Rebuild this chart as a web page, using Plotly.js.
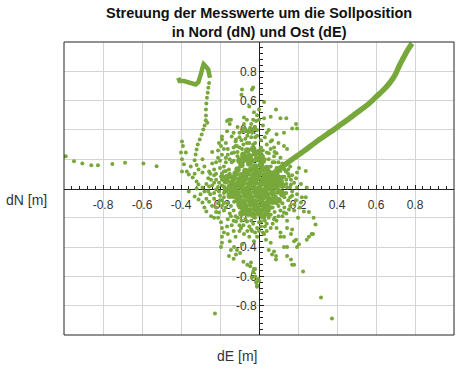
<!DOCTYPE html>
<html>
<head>
<meta charset="utf-8">
<script src="https://cdn.plot.ly/plotly-3.0.1.min.js"></script>
<style>html,body{margin:0;padding:0;background:#fff;}#chart{width:465px;height:370px;}</style>
</head>
<body>
<div id="chart"></div>
<script>
// ---- data (dE = x, dN = y, metres) ----
const curveE = [0.02,0.05,0.10,0.16,0.23,0.30,0.37,0.44,0.50,0.56,0.60,0.64,0.67,0.70,0.72,0.74,0.76,0.785];
const curveN = [0.03,0.08,0.13,0.19,0.255,0.325,0.39,0.455,0.515,0.575,0.625,0.675,0.72,0.78,0.84,0.89,0.94,0.99];

const loopE = [-0.414,-0.407,-0.385,-0.35,-0.325,-0.311,-0.304,-0.297,-0.29,-0.284,-0.277,-0.268,-0.26,-0.255,-0.251];
const loopN = [0.756,0.733,0.733,0.715,0.71,0.726,0.749,0.785,0.824,0.849,0.84,0.828,0.812,0.778,0.756];

const trailWest = [[-0.991,0.22],[-0.949,0.186],[-0.906,0.17],[-0.86,0.159],[-0.826,0.159],[-0.752,0.168],[-0.687,0.175],[-0.593,0.17],[-0.525,0.152]];

const trailNorth = [[-0.256,0.72],[-0.26,0.687],[-0.263,0.653],[-0.267,0.619],[-0.27,0.58],[-0.272,0.539],[-0.272,0.498],[-0.273,0.466],[-0.265,0.448],[-0.279,0.43],[-0.286,0.403],[-0.294,0.369],[-0.304,0.334],[-0.314,0.3],[-0.32,0.266],[-0.325,0.232],[-0.33,0.193]];

const cloud = [
[-0.395,0.32],[-0.39,0.29],[-0.375,0.245],[-0.40,0.245],[-0.395,0.20],[-0.385,0.165],[-0.395,0.116],[-0.37,0.116],[-0.36,0.095],[-0.34,0.075],[-0.32,0.048],[-0.31,0.027],[-0.29,0.007],[-0.28,-0.02],
[-0.29,0.2],[-0.28,0.15],[-0.256,0.116],[-0.246,0.06],[-0.23,0.04],[-0.22,-0.007],[-0.22,0.18],[-0.205,0.31],[-0.195,0.29],[-0.19,0.355],[-0.18,0.27],[-0.17,0.31],[-0.164,0.46],[-0.15,0.44],[-0.144,0.47],[-0.164,0.39],[-0.14,0.355],[-0.118,0.335],[-0.113,0.29],[-0.128,0.245],[-0.10,0.38],[-0.077,0.44],[-0.062,0.47],[-0.05,0.40],[-0.036,0.38],[-0.062,0.31],[-0.087,0.27],[-0.077,0.22],[-0.10,0.2],[-0.14,0.18],[-0.154,0.13],[-0.18,0.116],[-0.17,0.075],[-0.14,0.082],[-0.195,0.082],[-0.205,0.04],[-0.18,0.014],[-0.154,0.014],[-0.128,0.027],[-0.256,0.014],[-0.32,0.16],[-0.35,0.15],[-0.29,0.11],[-0.026,0.52],[-0.05,0.56],[-0.015,0.46],
[-0.087,0.676],[-0.036,0.676],[-0.09,0.64],[-0.154,0.47],[-0.077,0.485],[-0.03,0.69],[-0.19,0.335],
[0.026,0.59],[0.087,0.54],[0.06,0.49],[0.11,0.48],[0.14,0.48],[0.19,0.44],[0.195,0.41],[0.17,0.41],[0.04,0.38],[0.09,0.37],[0.128,0.38],[0.067,0.33],[0.10,0.31],[0.128,0.29],[0.144,0.27],[0.077,0.28],[0.205,0.14],[0.24,0.12],[0.195,0.11],[0.164,0.06],[0.18,0.04],[0.215,0.03],[0.01,0.33],[-0.01,0.40],[0.0,0.47],[0.026,0.48],[0.05,0.40],[0.0,0.54],[0.04,0.245],[0.077,0.22],[0.10,0.18],[0.06,0.15],[0.118,0.15],[0.138,0.116],[0.092,0.095],[0.154,0.082],[0.118,0.048],[0.164,0.027],[0.195,0.007],[0.144,0.007],
[-0.36,-0.02],[-0.33,-0.055],[-0.31,-0.075],[-0.29,-0.095],[-0.28,-0.13],[-0.27,-0.157],[-0.246,-0.19],[-0.23,-0.2],[-0.256,-0.09],[-0.22,-0.13],[-0.205,-0.164],[-0.21,-0.2],[-0.195,-0.23],[-0.19,-0.27],[-0.18,-0.30],[-0.19,-0.33],[-0.19,-0.37],[-0.195,-0.40],[-0.164,-0.26],[-0.16,-0.31],[-0.15,-0.36],[-0.144,-0.42],[-0.154,-0.46],[-0.128,-0.40],[-0.113,-0.42],[-0.097,-0.44],[-0.118,-0.45],[-0.087,-0.38],[-0.077,-0.31],[-0.092,-0.27],[-0.118,-0.225],[-0.144,-0.19],[-0.062,-0.225],[-0.036,-0.29],[-0.026,-0.36],[-0.041,-0.505],[-0.026,-0.55],[-0.036,-0.61],[-0.015,-0.64],[-0.01,-0.67],[-0.205,-0.02],[-0.18,-0.06],[-0.154,-0.04],[-0.128,-0.09],[-0.144,-0.12],[-0.10,-0.13],[-0.077,-0.164],[-0.05,-0.18],[-0.226,-0.853],[-0.13,-0.48],[-0.08,-0.50],[-0.02,-0.55],
[-0.06,-0.52],[-0.045,-0.53],[-0.03,-0.57],[-0.02,-0.60],[-0.005,-0.62],[0.0,-0.63],[-0.01,-0.66],
[0.026,-0.2],[0.04,-0.29],[0.06,-0.37],[0.077,-0.43],[0.087,-0.46],[0.09,-0.27],[0.11,-0.33],[0.128,-0.40],[0.144,-0.46],[0.17,-0.52],[0.144,-0.22],[0.17,-0.28],[0.19,-0.35],[0.205,-0.38],[0.256,-0.16],[0.29,-0.245],[0.277,-0.31],[0.256,-0.33],[0.23,-0.157],[0.01,-0.225],[0.026,-0.31],[0.036,-0.35],[0.05,-0.42],[0.067,-0.45],[0.087,-0.485],[0.06,-0.27],[0.077,-0.21],[0.10,-0.19],[0.128,-0.164],[0.154,-0.143],[0.18,-0.11],[0.215,-0.095],[0.24,-0.06],[0.195,-0.04],[0.17,-0.02],[0.245,0.007],[0.144,-0.27],[0.164,-0.31],[0.18,-0.36],[0.195,-0.40],[0.128,-0.33],[0.11,-0.30],[0.144,-0.40],[0.164,-0.485],[0.18,-0.52],[0.27,-0.31],[0.28,-0.20],[0.245,-0.35],[0.226,-0.567],[0.318,-0.744],[0.374,-0.887]
];

const ring = [
[-0.22,0.10],[-0.20,0.14],[-0.19,0.06],[-0.17,0.18],[-0.16,0.23],[-0.15,0.10],[-0.17,-0.02],[-0.19,-0.08],[-0.16,-0.10],[-0.18,-0.15],[-0.15,-0.17],[-0.13,-0.15],[-0.12,-0.19],[-0.09,-0.18],[-0.07,-0.21],[-0.04,-0.22],[-0.02,-0.20],[0.0,-0.23],[0.02,-0.18],[0.05,-0.20],[0.05,-0.15],[0.08,-0.16],[0.10,-0.12],[0.12,-0.10],[0.13,-0.06],[0.12,-0.02],[0.14,0.03],[0.12,0.08],[0.10,0.12],[0.08,0.18],[0.05,0.20],[0.02,0.22],[-0.01,0.24],[-0.04,0.22],[-0.06,0.26],[-0.03,0.30],[0.01,0.28],[0.03,0.35],[-0.02,0.35],[-0.11,0.22],[-0.13,0.19],[-0.12,0.29],[-0.09,0.33],[-0.06,0.36],[-0.02,0.42],[0.02,0.43],[0.06,0.27],[0.09,0.24],[0.11,0.21],[-0.21,0.21],[-0.24,0.25],[-0.23,0.09],[-0.26,0.07],[-0.25,-0.04],[-0.23,-0.07],[-0.21,-0.10],[-0.19,-0.12],[0.15,-0.08],[0.17,-0.05],[0.15,0.10],[0.13,0.13],[0.07,-0.24],[0.09,-0.22],[0.03,-0.26],[-0.01,-0.27],[-0.05,-0.26],[-0.10,-0.25],[-0.13,-0.22],
[-0.24,0.17],[-0.23,0.13],[-0.21,0.26],[-0.20,0.19],[-0.19,0.23],[-0.18,0.15],[-0.17,0.21],[-0.16,0.27],[-0.15,0.20],[-0.14,0.24],[-0.13,0.28],[-0.12,0.32],[-0.11,0.25],[-0.10,0.28],[-0.10,0.35],[-0.08,0.30],[-0.07,0.34],[-0.06,0.39],[-0.05,0.31],[-0.04,0.35],[-0.03,0.40],[-0.02,0.31],[-0.01,0.36],[-0.04,0.44],[-0.01,0.50],[-0.03,0.47],[-0.11,0.42],[-0.13,0.38],[-0.08,0.41],
[-0.07,0.405],[-0.055,0.385],[-0.045,0.415],[-0.085,0.39],[-0.065,0.215],[-0.085,0.205],
[0.02,0.26],[0.04,0.30],[0.03,0.20],[0.05,0.24],[0.07,0.18],[0.08,0.25],[0.06,0.32],[0.09,0.14],[0.11,0.12],[0.12,0.17],[0.13,0.08],[0.15,0.13],[0.16,0.15],[0.14,0.06],[0.17,0.09],[0.19,0.07],[0.16,0.01],
[-0.24,-0.12],[-0.22,-0.16],[-0.20,-0.05],[-0.18,-0.03],[-0.17,-0.13],[-0.16,-0.21],[-0.14,-0.25],[-0.13,-0.29],[-0.12,-0.33],[-0.11,-0.20],[-0.10,-0.29],[-0.09,-0.22],[-0.08,-0.25],[-0.06,-0.29],[-0.05,-0.33],[-0.04,-0.28],[-0.03,-0.24],[-0.02,-0.30],[-0.01,-0.33],[0.0,-0.29],[0.01,-0.26],[0.02,-0.30],[0.03,-0.22],[0.04,-0.24],[0.06,-0.18],[0.07,-0.13],[0.08,-0.20],[0.09,-0.10],[0.11,-0.15],[0.12,-0.19],[0.13,-0.13],[0.14,-0.17],[0.16,-0.12],[0.18,-0.15],[0.19,-0.08],[0.20,-0.20],[0.21,-0.13],[0.22,-0.06],[0.14,-0.03],[0.16,-0.06],
[-0.27,0.03],[-0.26,-0.02],[-0.25,0.10],[-0.24,0.02],[-0.23,-0.03],[-0.22,0.06],[-0.21,0.01],[-0.20,-0.08],[-0.19,0.10],[-0.19,0.02],[-0.18,0.08],[-0.18,-0.10],[-0.17,0.12],[-0.30,-0.04],[-0.27,-0.07],[-0.32,0.00],[-0.33,0.10],[-0.31,0.13]
];

const core = [
[-0.06,0.26],[-0.03,0.27],[0.0,0.25],
[-0.08,0.23],[-0.05,0.22],[-0.02,0.24],[0.01,0.22],
[-0.10,0.19],[-0.07,0.20],[-0.04,0.19],[-0.01,0.20],[0.02,0.19],
[-0.09,0.16],[-0.05,0.17],[-0.02,0.15],[0.01,0.16],[0.04,0.14],
[-0.11,0.13],[-0.07,0.12],[-0.04,0.13],[-0.01,0.12],[0.02,0.13],[0.05,0.11],
[-0.12,0.10],[-0.09,0.09],[-0.06,0.10],[-0.03,0.09],[0.0,0.10],[0.03,0.09],[0.06,0.08],[0.09,0.09],
[-0.13,0.07],[-0.10,0.06],[-0.07,0.07],[-0.04,0.06],[-0.01,0.07],[0.02,0.06],[0.05,0.05],[0.08,0.06],[0.11,0.07],
[-0.16,0.08],[-0.17,0.05],[-0.14,0.04],[-0.11,0.03],[-0.08,0.04],[-0.05,0.03],[-0.02,0.04],[0.01,0.03],[0.04,0.02],[0.07,0.03],[0.10,0.04],
[-0.17,-0.01],[-0.15,0.01],[-0.12,0.0],[-0.09,0.01],[-0.06,0.0],[-0.03,0.01],[0.0,0.0],[0.03,-0.01],[0.06,0.0],[0.09,0.01],[0.12,0.02],
[-0.14,-0.02],[-0.11,-0.03],[-0.08,-0.02],[-0.05,-0.03],[-0.02,-0.02],[0.01,-0.03],[0.04,-0.04],[0.07,-0.03],[0.10,-0.02],[0.12,-0.04],
[-0.15,-0.05],[-0.13,-0.05],[-0.10,-0.06],[-0.07,-0.05],[-0.04,-0.06],[-0.01,-0.05],[0.02,-0.06],[0.05,-0.07],[0.08,-0.06],
[-0.11,-0.08],[-0.08,-0.09],[-0.05,-0.08],[-0.02,-0.09],[0.01,-0.08],[0.04,-0.10],[0.07,-0.09],[0.10,-0.08],
[-0.10,-0.11],[-0.07,-0.12],[-0.04,-0.11],[-0.01,-0.12],[0.02,-0.11],[0.05,-0.13],
[-0.09,-0.17],[-0.08,-0.14],[-0.05,-0.15],[-0.02,-0.14],[0.01,-0.15],[0.03,-0.14],[0.04,-0.17],
[-0.06,-0.17],[-0.03,-0.18],[0.0,-0.17],[0.02,-0.19]
];

const tickVals = [-0.8,-0.6,-0.4,-0.2,0.2,0.4,0.6,0.8];
const tickText = ['-0.8','-0.6','-0.4','-0.2','0.2','0.4','0.6','0.8'];

// ---- drawing ----
const GREEN = '#78a83b';
const FONT = 'Liberation Sans, Arial, sans-serif';
const dots = trailWest.concat(trailNorth, cloud, ring);

const traces = [
  {x: curveE, y: curveN, mode: 'lines', line: {color: GREEN, width: 5.5, shape: 'spline', smoothing: 0.8}, hoverinfo: 'skip'},
  {x: loopE, y: loopN, mode: 'lines', line: {color: GREEN, width: 4.5}, hoverinfo: 'skip'},
  {x: dots.map(p => p[0]), y: dots.map(p => p[1]), mode: 'markers', marker: {color: GREEN, size: 4}, hoverinfo: 'skip'},
  {x: core.map(p => p[0]), y: core.map(p => p[1]), mode: 'markers', marker: {color: GREEN, size: 6.5}, hoverinfo: 'skip'}
];

const axisCommon = {
  range: [-1, 1],
  tickmode: 'array', tickvals: tickVals, ticktext: tickText,
  showgrid: true, gridcolor: '#d4d4d4', gridwidth: 1,
  zeroline: false,
  showline: true, linecolor: '#222', linewidth: 1,
  ticks: 'inside', ticklen: 4, tickcolor: '#222',
  minor: {dtick: 0.04, tick0: 0, ticks: 'inside', ticklen: 3, tickcolor: '#222', showgrid: false},
  tickfont: {family: FONT, size: 12, color: '#333'},
  anchor: 'free', position: 0.5,
  layer: 'below traces',
  fixedrange: true
};

const layout = {
  width: 465, height: 370,
  margin: {l: 64, r: 11, t: 42, b: 35, pad: 0},
  paper_bgcolor: '#fff', plot_bgcolor: '#fff',
  showlegend: false,
  font: {family: FONT, color: '#222'},
  xaxis: Object.assign({}, axisCommon, {side: 'bottom', ticklabelstandoff: 5}),
  yaxis: Object.assign({}, axisCommon, {side: 'left'}),
  shapes: [
    {type: 'rect', xref: 'paper', yref: 'paper', x0: 0, x1: 1, y0: 0, y1: 1,
     line: {color: '#222', width: 1}, layer: 'above'}
  ],
  annotations: [
    {text: '<b>Streuung der Messwerte um die Sollposition<br>in Nord (dN) und Ost (dE)</b>',
     xref: 'paper', yref: 'paper', x: 0.5, y: 1, xanchor: 'center', yanchor: 'bottom', yshift: 0,
     showarrow: false, font: {family: FONT, size: 14.5, color: '#111'}},
    {text: 'dN [m]', xref: 'paper', yref: 'paper', x: -0.095, y: 0.461, xanchor: 'center', yanchor: 'middle',
     showarrow: false, font: {family: FONT, size: 14, color: '#333'}},
    {text: 'dE [m]', xref: 'paper', yref: 'paper', x: 0.444, y: -0.072, xanchor: 'center', yanchor: 'middle',
     showarrow: false, font: {family: FONT, size: 14, color: '#333'}}
  ]
};

Plotly.newPlot('chart', traces, layout, {staticPlot: true, displayModeBar: false});
</script>
</body>
</html>
